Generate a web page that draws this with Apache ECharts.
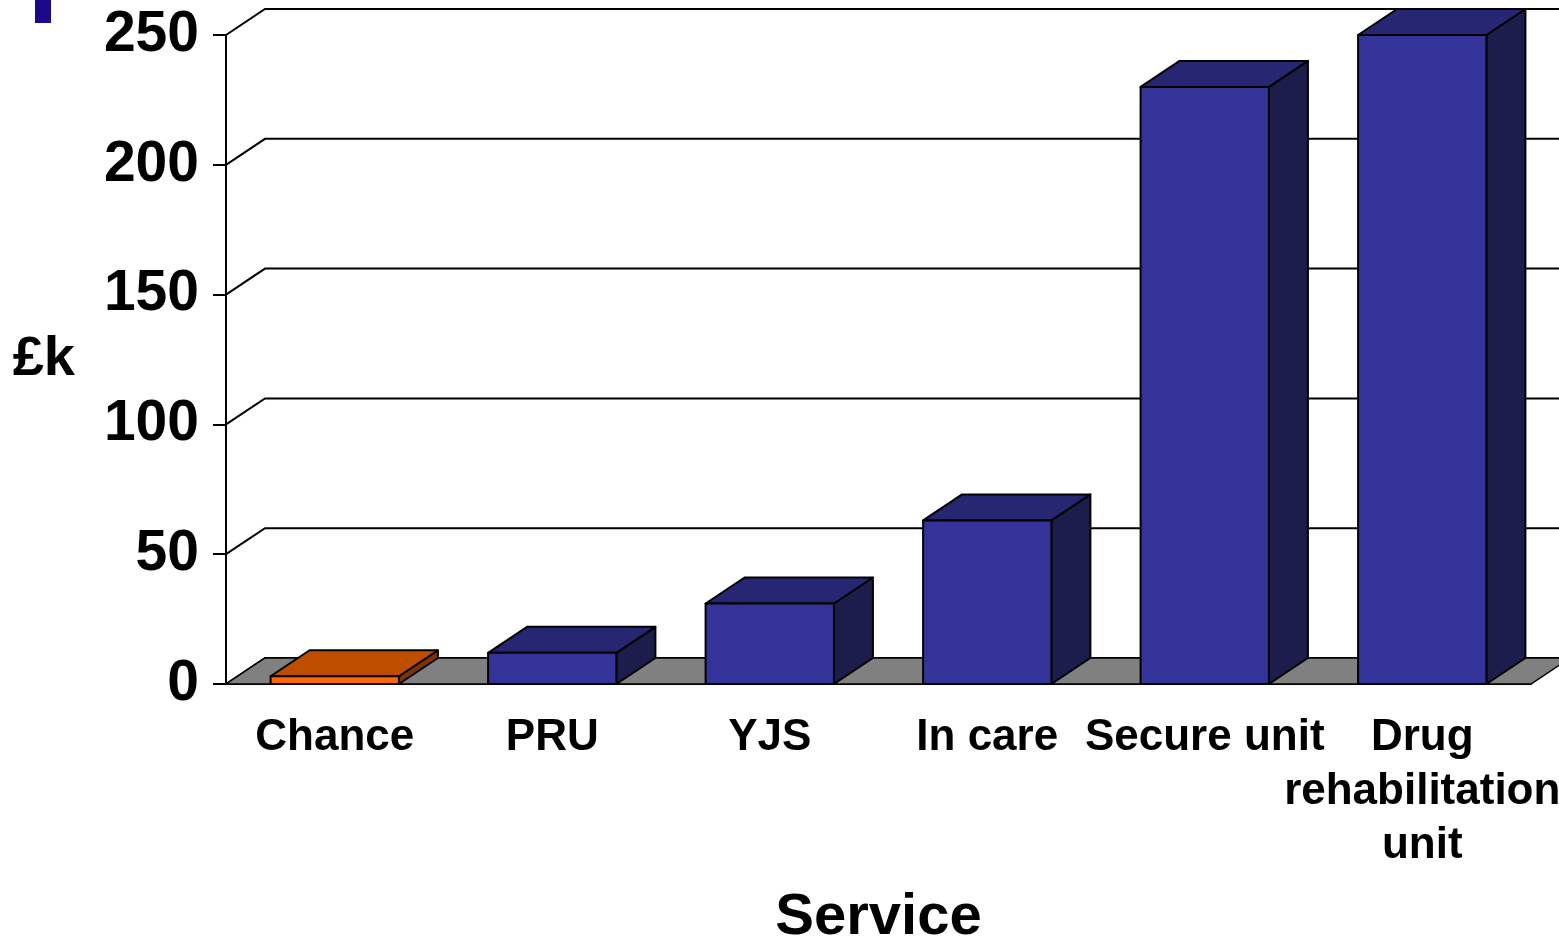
<!DOCTYPE html>
<html>
<head>
<meta charset="utf-8">
<title>Service cost</title>
<script src="https://cdn.jsdelivr.net/npm/echarts@6/dist/echarts.min.js"></script>
<style>
  html, body { margin: 0; padding: 0; background: #fff; }
  #chart { width: 1559px; height: 939px; }
</style>
</head>
<body>
<div id="chart"></div>
<script>
// data (£k per service)
const categories = ['Chance', 'PRU', 'YJS', 'In care', 'Secure unit', 'Drug\nrehabilitation\nunit'];
const values = [3, 12, 31, 63, 230, 250];
const yTicks = [0, 50, 100, 150, 200, 250];

// 3d depth offset of the back wall, in pixels
const DX = 39;
const DY = -26;
const FONT = 'Arial, "Liberation Sans", sans-serif';

const blueFaces = { front: '#333399', top: '#262673', side: '#1c1c4d' };
const orangeFaces = { front: '#ff6600', top: '#bf4d00', side: '#803300' };

const chart = echarts.init(document.getElementById('chart'));

// back wall gridlines + the little diagonals off the y axis
const renderWall = (params, api) => {
  const cs = params.coordSys;
  const y = api.coord([0, api.value(1)])[1];
  const x0 = cs.x;
  const x1 = cs.x + cs.width;
  return {
    type: 'polyline',
    shape: { points: [[x0, y], [x0 + DX, y + DY], [x1 + DX, y + DY]] },
    style: { stroke: '#000', lineWidth: 2, fill: null }
  };
};

const renderFloor = (params, api) => {
  const cs = params.coordSys;
  const y = api.coord([0, api.value(1)])[1];
  const x0 = cs.x;
  const x1 = cs.x + cs.width;
  return {
    type: 'polygon',
    shape: { points: [[x0, y], [x1, y], [x1 + DX, y + DY], [x0 + DX, y + DY]] },
    style: { fill: '#808080', stroke: '#000', lineWidth: 1.5 }
  };
};

const renderBar = (params, api) => {
  const idx = api.value(0);
  const top = api.coord([idx, api.value(1)]);
  const base = api.coord([idx, 0]);
  const w = api.size([1, 0])[0] * 0.59;
  const xl = top[0] - w / 2;
  const xr = top[0] + w / 2;
  const ty = top[1];
  const by = base[1];
  const c = idx === 0 ? orangeFaces : blueFaces;
  const edge = { stroke: '#000', lineWidth: 2, lineJoin: 'round' };
  return {
    type: 'group',
    children: [
      {
        type: 'polygon',
        shape: { points: [[xr, by], [xr, ty], [xr + DX, ty + DY], [xr + DX, by + DY]] },
        style: Object.assign({ fill: c.side }, edge)
      },
      {
        type: 'polygon',
        shape: { points: [[xl, ty], [xr, ty], [xr + DX, ty + DY], [xl + DX, ty + DY]] },
        style: Object.assign({ fill: c.top }, edge)
      },
      {
        type: 'polygon',
        shape: { points: [[xl, by], [xr, by], [xr, ty], [xl, ty]] },
        style: Object.assign({ fill: c.front }, edge)
      }
    ]
  };
};

const option = {
  backgroundColor: '#fff',
  animation: false,
  textStyle: { fontFamily: FONT },
  graphic: [
    { type: 'rect', left: 35, top: 0, shape: { width: 16, height: 23 }, style: { fill: '#1a0a8a' } }
  ],
  grid: { left: 226, right: 28, top: 35, bottom: 255, outerBoundsMode: 'none', containLabel: false },
  xAxis: {
    type: 'category',
    data: categories,
    name: 'Service',
    nameLocation: 'middle',
    nameGap: 205,
    nameTextStyle: { fontSize: 58, fontWeight: 'bold', color: '#000', fontFamily: FONT },
    axisLine: { lineStyle: { color: '#000', width: 2 } },
    axisTick: { length: 13, interval: 0, lineStyle: { color: '#000', width: 2 } },
    axisLabel: {
      interval: 0,
      margin: 27,
      fontSize: 44,
      lineHeight: 54,
      fontWeight: 'bold',
      color: '#000',
      fontFamily: FONT
    },
    splitLine: { show: false }
  },
  yAxis: {
    type: 'value',
    min: 0,
    max: 250,
    interval: 50,
    name: '£k',
    nameLocation: 'middle',
    nameRotate: 0,
    nameGap: 151,
    nameTextStyle: { fontSize: 56, fontWeight: 'bold', color: '#000', fontFamily: FONT, padding: [10, 0, 0, 0] },
    axisLine: { show: true, lineStyle: { color: '#000', width: 2 } },
    axisTick: { show: true, length: 13, lineStyle: { color: '#000', width: 2 } },
    axisLabel: { margin: 27, fontSize: 57, fontWeight: 'bold', color: '#000', fontFamily: FONT },
    splitLine: { show: false }
  },
  series: [
    {
      type: 'custom',
      z: 1,
      renderItem: renderWall,
      data: yTicks.map(v => [0, v]),
      silent: true
    },
    {
      type: 'custom',
      z: 2,
      renderItem: renderFloor,
      data: [[0, 0]],
      silent: true
    },
    {
      type: 'custom',
      z: 3,
      renderItem: renderBar,
      data: values.map((v, i) => [i, v])
    }
  ]
};

chart.setOption(option);
window.addEventListener('resize', () => chart.resize());
</script>
</body>
</html>
